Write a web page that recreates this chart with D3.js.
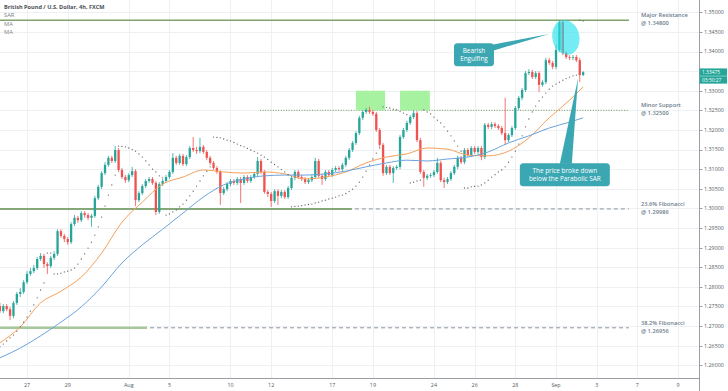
<!DOCTYPE html>
<html><head><meta charset="utf-8">
<script src="https://cdn.jsdelivr.net/npm/d3@7/dist/d3.min.js"></script>
<style>body{margin:0;background:#fff}svg{display:block;font-family:"Open Sans",Lato,sans-serif}</style>
</head><body><svg id="c" width="728" height="391"></svg>
<script>
// ---------- DATA (GBP/USD 4h candles) ----------
const opens=[1.2751,1.2738,1.2751,1.2743,1.2726,1.2759,1.2782,1.2787,1.2812,1.2833,
1.2840,1.2848,1.2871,1.2879,1.2858,1.2853,1.2874,1.2884,1.2942,1.2930,
1.2922,1.2914,1.2960,1.2976,1.2970,1.2988,1.2983,1.2976,1.2981,1.3026,
1.3055,1.3090,1.3111,1.3129,1.3121,1.3149,1.3098,1.3080,1.3072,1.3085,
1.3095,1.3021,1.3039,1.3057,1.3070,1.3075,1.3065,1.2991,1.3062,1.3070,
1.3080,1.3093,1.3129,1.3116,1.3134,1.3113,1.3131,1.3154,1.3149,1.3146,
1.3157,1.3144,1.3129,1.3116,1.3103,1.3093,1.3039,1.3049,1.3062,1.3070,
1.3065,1.3075,1.3065,1.3080,1.3070,1.3080,1.3088,1.3121,1.3093,1.3042,
1.3037,1.3019,1.3044,1.3032,1.3042,1.3029,1.3052,1.3078,1.3093,1.3080,
1.3075,1.3067,1.3072,1.3080,1.3121,1.3083,1.3075,1.3093,1.3085,1.3098,
1.3103,1.3100,1.3111,1.3129,1.3149,1.3167,1.3192,1.3231,1.3246,1.3251,
1.3246,1.3241,1.3200,1.3162,1.3090,1.3106,1.3090,1.3103,1.3106,1.3182,
1.3200,1.3218,1.3233,1.3243,1.3174,1.3093,1.3078,1.3083,1.3085,1.3093,
1.3116,1.3072,1.3067,1.3075,1.3090,1.3106,1.3129,1.3118,1.3149,1.3136,
1.3154,1.3144,1.3154,1.3131,1.3213,1.3208,1.3215,1.3210,1.3205,1.3192,
1.3174,1.3187,1.3205,1.3256,1.3282,1.3302,1.3345,1.3348,1.3335,1.3345,
1.3315,1.3322,1.3378,1.3371,1.3361,1.3404,1.3475,1.3396,1.3386,1.3384,
1.3386,1.3378,1.3340];
const highs=[1.2759,1.2756,1.2756,1.2749,1.2764,1.2787,1.2797,1.2817,1.2840,1.2848,
1.2856,1.2876,1.2886,1.2884,1.2863,1.2879,1.2891,1.2947,1.2947,1.2935,
1.2927,1.2965,1.2983,1.2981,1.2993,1.2993,1.2988,1.2986,1.3032,1.3060,
1.3095,1.3118,1.3134,1.3134,1.3159,1.3154,1.3103,1.3085,1.3090,1.3106,
1.3100,1.3044,1.3062,1.3075,1.3080,1.3080,1.3070,1.3067,1.3075,1.3085,
1.3098,1.3141,1.3134,1.3139,1.3139,1.3136,1.3159,1.3182,1.3157,1.3180,
1.3162,1.3149,1.3134,1.3121,1.3108,1.3098,1.3055,1.3067,1.3075,1.3075,
1.3080,1.3080,1.3085,1.3085,1.3085,1.3093,1.3131,1.3126,1.3098,1.3047,
1.3042,1.3049,1.3049,1.3047,1.3047,1.3057,1.3083,1.3098,1.3098,1.3085,
1.3080,1.3078,1.3085,1.3129,1.3126,1.3088,1.3098,1.3098,1.3103,1.3108,
1.3108,1.3116,1.3134,1.3154,1.3172,1.3197,1.3236,1.3251,1.3256,1.3259,
1.3251,1.3246,1.3205,1.3167,1.3111,1.3111,1.3108,1.3111,1.3187,1.3205,
1.3223,1.3238,1.3251,1.3248,1.3180,1.3098,1.3088,1.3090,1.3098,1.3129,
1.3121,1.3078,1.3080,1.3095,1.3111,1.3134,1.3134,1.3154,1.3154,1.3159,
1.3159,1.3159,1.3159,1.3218,1.3218,1.3220,1.3220,1.3215,1.3210,1.3282,
1.3192,1.3210,1.3261,1.3287,1.3307,1.3350,1.3355,1.3353,1.3350,1.3350,
1.3327,1.3384,1.3384,1.3376,1.3417,1.3480,1.3480,1.3401,1.3391,1.3391,
1.3391,1.3384,1.3350];
const lows=[1.2733,1.2733,1.2738,1.2715,1.2720,1.2754,1.2774,1.2782,1.2807,1.2828,
1.2835,1.2843,1.2866,1.2848,1.2833,1.2848,1.2868,1.2879,1.2925,1.2914,
1.2907,1.2909,1.2955,1.2963,1.2965,1.2976,1.2970,1.2953,1.2976,1.3021,
1.3049,1.3085,1.3106,1.3116,1.3116,1.3093,1.3075,1.3065,1.3067,1.3080,
1.3006,1.3016,1.3034,1.3052,1.3065,1.3060,1.2983,1.2986,1.3057,1.3065,
1.3075,1.3088,1.3111,1.3111,1.3108,1.3108,1.3126,1.3144,1.3139,1.3141,
1.3139,1.3123,1.3111,1.3098,1.3088,1.3009,1.3034,1.3044,1.3057,1.3060,
1.3060,1.3014,1.3060,1.3065,1.3065,1.3075,1.3083,1.3088,1.3037,1.3029,
1.3004,1.3014,1.3009,1.3026,1.3024,1.3024,1.3047,1.3072,1.3075,1.3070,
1.3062,1.3062,1.3067,1.3075,1.3078,1.3060,1.3070,1.3080,1.3080,1.3093,
1.3095,1.3095,1.3106,1.3123,1.3144,1.3162,1.3187,1.3225,1.3241,1.3241,
1.3236,1.3195,1.3157,1.3083,1.3085,1.3085,1.3065,1.3098,1.3100,1.3177,
1.3195,1.3213,1.3228,1.3169,1.3088,1.3055,1.3072,1.3078,1.3080,1.3088,
1.3067,1.3052,1.3062,1.3070,1.3085,1.3100,1.3113,1.3113,1.3131,1.3131,
1.3139,1.3139,1.3123,1.3126,1.3202,1.3202,1.3205,1.3200,1.3187,1.3162,
1.3169,1.3182,1.3200,1.3251,1.3276,1.3297,1.3340,1.3330,1.3330,1.3297,
1.3310,1.3317,1.3366,1.3355,1.3355,1.3399,1.3391,1.3381,1.3378,1.3378,
1.3373,1.3322,1.3338];
const closes=[1.2738,1.2751,1.2743,1.2726,1.2759,1.2782,1.2787,1.2812,1.2833,1.2840,
1.2848,1.2871,1.2879,1.2858,1.2853,1.2874,1.2884,1.2942,1.2930,1.2922,
1.2914,1.2960,1.2976,1.2970,1.2988,1.2983,1.2976,1.2981,1.3026,1.3055,
1.3090,1.3111,1.3129,1.3121,1.3149,1.3098,1.3080,1.3072,1.3085,1.3095,
1.3021,1.3039,1.3057,1.3070,1.3075,1.3065,1.2991,1.3062,1.3070,1.3080,
1.3093,1.3129,1.3116,1.3134,1.3113,1.3131,1.3154,1.3149,1.3146,1.3157,
1.3144,1.3129,1.3116,1.3103,1.3093,1.3039,1.3049,1.3062,1.3070,1.3065,
1.3075,1.3065,1.3080,1.3070,1.3080,1.3088,1.3121,1.3093,1.3042,1.3037,
1.3019,1.3044,1.3032,1.3042,1.3029,1.3052,1.3078,1.3093,1.3080,1.3075,
1.3067,1.3072,1.3080,1.3121,1.3083,1.3075,1.3093,1.3085,1.3098,1.3103,
1.3100,1.3111,1.3129,1.3149,1.3167,1.3192,1.3231,1.3246,1.3251,1.3246,
1.3241,1.3200,1.3162,1.3090,1.3106,1.3090,1.3103,1.3106,1.3182,1.3200,
1.3218,1.3233,1.3243,1.3174,1.3093,1.3078,1.3083,1.3085,1.3093,1.3116,
1.3072,1.3067,1.3075,1.3090,1.3106,1.3129,1.3118,1.3149,1.3136,1.3154,
1.3144,1.3154,1.3131,1.3213,1.3208,1.3215,1.3210,1.3205,1.3192,1.3174,
1.3187,1.3205,1.3256,1.3282,1.3302,1.3345,1.3348,1.3335,1.3345,1.3315,
1.3322,1.3378,1.3371,1.3361,1.3404,1.3475,1.3396,1.3386,1.3384,1.3386,
1.3378,1.3340,1.33475];
// Parabolic SAR, one value per candle
const sar=[1.2647,1.2654,1.2662,1.2670,1.2677,1.2687,1.2698,1.2710,1.2723,1.2738,
1.2754,1.2772,1.2792,1.2810,1.2886,1.2886,1.2833,1.2833,1.2835,1.2838,
1.2840,1.2843,1.2848,1.2858,1.2871,1.2884,1.2899,1.2914,1.2932,1.2953,
1.2978,1.3006,1.3034,1.3060,1.3085,1.3159,1.3158,1.3157,1.3154,1.3150,
1.3146,1.3139,1.3131,1.3121,1.3111,1.3100,1.3093,1.3083,1.3078,1.2983,
1.2986,1.2991,1.2996,1.3004,1.3011,1.3021,1.3032,1.3044,1.3057,1.3070,
1.3083,1.3095,1.3106,1.3182,1.3181,1.3180,1.3177,1.3174,1.3172,1.3168,
1.3164,1.3160,1.3157,1.3153,1.3149,1.3145,1.3141,1.3136,1.3131,1.3125,
1.3118,1.3112,1.3106,1.3099,1.3093,1.3086,1.3004,1.3005,1.3006,1.3007,
1.3009,1.3010,1.3011,1.3014,1.3016,1.3019,1.3021,1.3024,1.3026,1.3029,
1.3032,1.3034,1.3038,1.3043,1.3049,1.3057,1.3067,1.3080,1.3095,1.3111,
1.3126,1.3141,1.3154,1.3259,1.3257,1.3256,1.3253,1.3251,1.3247,1.3243,
1.3239,1.3065,1.3067,1.3070,1.3072,1.3251,1.3246,1.3241,1.3233,1.3225,
1.3218,1.3208,1.3197,1.3185,1.3172,1.3159,1.3146,1.3052,1.3052,1.3055,
1.3056,1.3057,1.3060,1.3065,1.3072,1.3080,1.3086,1.3093,1.3098,1.3106,
1.3118,1.3131,1.3146,1.3164,1.3185,1.3208,1.3228,1.3246,1.3261,1.3274,
1.3284,1.3294,1.3304,1.3312,1.3317,1.3322,1.3327,1.3331,1.3335,1.3338,
1.3340,1.3480,1.3478];
// moving averages, sampled at these candle numbers
const maIndex=[0,6,12,18,24,30,36,42,48,54,60,66,72,78,84,90,96,102,108,114,120,126,132,138,144,150,156,162,168,172];
const maFast=[1.2657,1.2698,1.2759,1.2789,1.2825,1.2886,1.2965,1.3016,1.3062,1.3080,1.3098,1.3093,1.3090,1.3093,1.3088,1.3075,1.3080,1.3093,1.3116,1.3131,1.3139,1.3154,1.3151,1.3136,1.3134,1.3146,1.3180,1.3231,1.3276,1.3310];
const maSlow=[1.2619,1.2644,1.2675,1.2710,1.2749,1.2800,1.2861,1.2907,1.2947,1.2988,1.3029,1.3060,1.3075,1.3083,1.3085,1.3085,1.3088,1.3095,1.3106,1.3116,1.3123,1.3121,1.3126,1.3131,1.3144,1.3167,1.3185,1.3205,1.3220,1.3231];
// axis ticks
const xTickLabels=["27","29","Aug","5","10","12","17","19","24","26","28","Sep","3","7","9"];
const xTickIndex=[8,20,38,50,68,80,98,110,128,140,152,164,176,188,200];
const yTickValues=[1.26,1.265,1.27,1.275,1.28,1.285,1.29,1.295,1.30,1.305,1.31,1.315,1.32,1.325,1.33,1.335,1.34,1.345,1.35];
// annotated levels
const levelTitles=["Major Resistance","Minor Support","23.6% Fibonacci","38.2% Fibonacci"];
const levelValues=[1.348,1.325,1.29986,1.26956];
const levelLabels=["@ 1.34800","@ 1.32500","@ 1.29986","@ 1.26956"];
const lastPrice=1.33475, countdown="03:50:27";
const title="British Pound / U.S. Dollar, 4h, FXCM";
const legendNames=["SAR","MA","MA"];

// ---------- CHART ----------
const svg=d3.select("#c");
const R=699, B=378;
const x=d3.scaleLinear().domain([0,206]).range([-0.1,-0.1+3.391*206]);
const y=d3.scaleLinear().domain([1.25676,1.35314]).range([B,0]);
const px=v=>Math.round(v)+0.5;

// grid
svg.append("g").selectAll("line").data(xTickIndex).join("line")
 .attr("x1",d=>px(x(d))).attr("x2",d=>px(x(d))).attr("y1",0).attr("y2",B)
 .attr("stroke","#eef1f4");
svg.append("g").selectAll("line").data(yTickValues).join("line")
 .attr("x1",0).attr("x2",R).attr("y1",d=>px(y(d))).attr("y2",d=>px(y(d)))
 .attr("stroke","#eef1f4");

// levels
const lv=svg.append("g");
const xEnd=x(185.5);
lv.append("line").attr("x1",0).attr("x2",xEnd).attr("y1",y(levelValues[0])).attr("y2",y(levelValues[0]))
 .attr("stroke","#7ea36c").attr("stroke-width",1.5);
lv.append("line").attr("x1",x(76.7)).attr("x2",xEnd).attr("y1",y(levelValues[1])).attr("y2",y(levelValues[1]))
 .attr("stroke","#8aab78").attr("stroke-width",1.2).attr("stroke-dasharray","1,1.6");
lv.append("line").attr("x1",0).attr("x2",x(103.8)).attr("y1",y(levelValues[2])).attr("y2",y(levelValues[2]))
 .attr("stroke","#5f8e4f").attr("stroke-width",1.5);
lv.append("line").attr("x1",x(103.8)+3).attr("x2",xEnd).attr("y1",y(levelValues[2])).attr("y2",y(levelValues[2]))
 .attr("stroke","#8e9399").attr("stroke-width",1).attr("stroke-dasharray","4,3");
lv.append("line").attr("x1",0).attr("x2",x(43.4)).attr("y1",y(levelValues[3])).attr("y2",y(levelValues[3]))
 .attr("stroke","#a8c79a").attr("stroke-width",2.5);
lv.append("line").attr("x1",x(43.4)+3).attr("x2",xEnd).attr("y1",y(levelValues[3])).attr("y2",y(levelValues[3]))
 .attr("stroke","#8e9399").attr("stroke-width",1).attr("stroke-dasharray","4,3");

// highlight zones at the double top
const zones=[[105,113.6],[118,126.8]];
svg.append("g").selectAll("rect").data(zones).join("rect")
 .attr("x",d=>x(d[0])).attr("width",d=>x(d[1])-x(d[0]))
 .attr("y",y(1.3300)).attr("height",y(1.3250)-y(1.3300))
 .attr("fill","#a6f2a1");

// candles
const candles=closes.map((c,i)=>({i,o:opens[i],h:highs[i],l:lows[i],c}));
const col=d=>d.c>=d.o?"#26a69a":"#ef5350";
const cg=svg.append("g");
cg.selectAll("line").data(candles).join("line")
 .attr("x1",d=>x(d.i)).attr("x2",d=>x(d.i)).attr("y1",d=>y(d.h)).attr("y2",d=>y(d.l))
 .attr("stroke",col).attr("stroke-width",0.8);
cg.selectAll("rect").data(candles).join("rect")
 .attr("x",d=>x(d.i)-1.15).attr("width",2.3)
 .attr("y",d=>Math.min(y(d.o),y(d.c))).attr("height",d=>Math.max(0.8,Math.abs(y(d.o)-y(d.c))))
 .attr("fill",col);

// moving averages
const maLine=arr=>d3.line().x((d,k)=>x(maIndex[k])).y(d=>y(d)).curve(d3.curveMonotoneX)(arr);
svg.append("path").attr("d",maLine(maFast)).attr("fill","none").attr("stroke","#f6a05a").attr("stroke-width",1);
svg.append("path").attr("d",maLine(maSlow)).attr("fill","none").attr("stroke","#6aa3dc").attr("stroke-width",1);

// SAR dots
svg.append("g").selectAll("circle").data(sar).join("circle")
 .attr("cx",(d,i)=>x(i)).attr("cy",d=>y(d)).attr("r",0.65).attr("fill","#606060");

// bearish engulfing ellipse
svg.append("ellipse").attr("cx",x(166.9)).attr("cy",y(1.3436)).attr("rx",13.5).attr("ry",17.5)
 .attr("transform",`rotate(-12 ${x(166.9)} ${y(1.3436)})`)
 .attr("fill","#1fe0ec").attr("fill-opacity",0.62);

// callouts
const callFill="#3aa7b2";
function callout(cxI,cyP,w,h,lines,tipI,tipP,baseA,baseB){
 const cx=x(cxI), cy=y(cyP);
 const g=svg.append("g");
 g.append("path").attr("d",`M${baseA[0]+cx},${baseA[1]+cy}L${x(tipI)},${y(tipP)}L${baseB[0]+cx},${baseB[1]+cy}Z`).attr("fill",callFill);
 g.append("rect").attr("x",cx-w/2).attr("y",cy-h/2).attr("width",w).attr("height",h).attr("rx",3.5).attr("fill",callFill);
 g.selectAll("text").data(lines).join("text").attr("x",cx).attr("y",(d,k)=>cy+(k-(lines.length-1)/2)*7.8)
  .attr("dy","0.35em").attr("text-anchor","middle").attr("fill","#fff").attr("font-size",6.4).text(d=>d);
}
callout(139.8,1.33920,40,23,["Bearish","Engulfing"],162.0,1.3445,[13,-9],[19,-4]);
callout(166.6,1.30860,90,23,["The price broke down","below the Parabolic SAR"],170.5,1.3332,[-5,-11],[7,-11]);

// axes
svg.append("line").attr("x1",px(R)).attr("x2",px(R)).attr("y1",0).attr("y2",391).attr("stroke","#9a9ea3");
svg.append("line").attr("x1",0).attr("x2",px(R)).attr("y1",px(B)).attr("y2",px(B)).attr("stroke","#9a9ea3");
const ya=svg.append("g");
ya.selectAll("line").data(yTickValues).join("line").attr("x1",R+0.5).attr("x2",R+3.5)
 .attr("y1",d=>px(y(d))).attr("y2",d=>px(y(d))).attr("stroke","#9a9ea3");
// tick labels hidden behind the last-price tag are not drawn (as in the reference)
const ly=y(lastPrice);
ya.selectAll("text").data(yTickValues.filter(v=>Math.abs(y(v)-(ly+3.9))>9)).join("text").attr("x",R+5).attr("y",d=>y(d)).attr("dy","0.35em")
 .attr("font-size",5.4).attr("fill","#555c63").text(d=>d.toFixed(5));
svg.append("g").selectAll("text").data(xTickIndex).join("text").attr("x",d=>x(d)).attr("y",387)
 .attr("text-anchor","middle").attr("font-size",5.4).attr("fill","#555c63").text((d,k)=>xTickLabels[k]);

// level labels
const ll=svg.append("g");
levelValues.forEach((v,k)=>{
 ll.append("text").attr("x",641).attr("y",y(v)-5).attr("dy","0.35em").attr("font-size",5.7).attr("font-weight",600).attr("fill","#6c7c8c").text(levelTitles[k]);
 ll.append("text").attr("x",641).attr("y",y(v)+2.9).attr("dy","0.35em").attr("font-size",5.7).attr("font-weight",600).attr("fill","#6c7c8c").text(levelLabels[k]);
});

// last price tag
svg.append("rect").attr("x",R+0.5).attr("y",ly-3.7).attr("width",27.5).attr("height",7.4).attr("fill","#26a69a");
svg.append("rect").attr("x",R+0.5).attr("y",ly+4.1).attr("width",27.5).attr("height",7.4).attr("fill","#26a69a");
svg.append("text").attr("x",R+3).attr("y",ly).attr("dy","0.35em").attr("font-size",4.9).attr("fill","#fff").text(lastPrice.toFixed(5));
svg.append("text").attr("x",R+3).attr("y",ly+7.8).attr("dy","0.35em").attr("font-size",4.9).attr("fill","#fff").text(countdown);

// legend
svg.append("text").attr("x",4).attr("y",8.6).attr("font-size",5.6).attr("font-weight",700).attr("fill","#4a4f55").text(title);
svg.append("g").selectAll("text").data(legendNames).join("text").attr("x",4).attr("y",(d,k)=>17+k*8.6)
 .attr("font-size",5.8).attr("fill","#7a7f85").text(d=>d);
</script></body></html>
